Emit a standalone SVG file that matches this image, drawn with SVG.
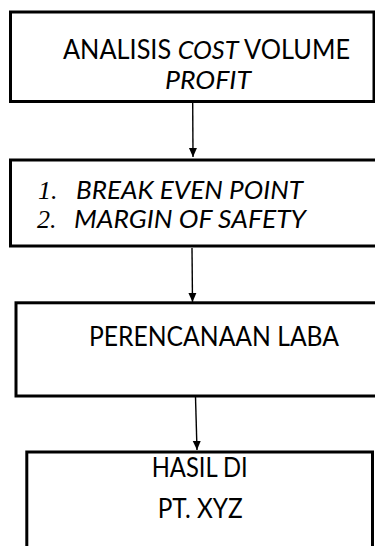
<svg xmlns="http://www.w3.org/2000/svg" width="375" height="546" viewBox="0 0 375 546">
<style>
.box{fill:#fff;stroke:#000;stroke-width:3}
.t{font-family:Lato,"Open Sans","Liberation Sans",sans-serif;font-size:26px;fill:#000}
.i{font-style:italic}
.n{font-family:"Liberation Serif",serif;font-style:italic;font-size:26px;fill:#000}
.c{stroke:#000;stroke-width:1.4;fill:none}
</style>
<defs>
<marker id="ah" markerUnits="userSpaceOnUse" markerWidth="10" markerHeight="10" viewBox="0 0 10 10" refX="9" refY="5" orient="auto">
<path d="M0,1 L9,5 L0,9 Z" fill="#000"/>
</marker>
</defs>
<rect width="375" height="546" fill="#fff"/>
<g id="connectors">
<line class="c" x1="192.7" y1="103" x2="193" y2="157" marker-end="url(#ah)"/>
<line class="c" x1="192" y1="248" x2="192.5" y2="302" marker-end="url(#ah)"/>
<line class="c" x1="195.5" y1="397" x2="197" y2="450" marker-end="url(#ah)"/>
</g>
<g id="node1">
<rect class="box" x="10.5" y="12" width="363.5" height="89.5"/>
<text class="t" x="63" y="59" textLength="287" lengthAdjust="spacingAndGlyphs">ANALISIS <tspan class="i">COST</tspan> VOLUME</text>
<text class="t i" x="165" y="89" textLength="86" lengthAdjust="spacingAndGlyphs">PROFIT</text>
</g>
<g id="node2">
<rect class="box" x="10.5" y="160" width="372" height="86"/>
<text class="n" x="38" y="199">1.</text>
<text class="t i" x="76" y="199" textLength="227" lengthAdjust="spacingAndGlyphs">BREAK EVEN POINT</text>
<text class="n" x="37" y="228">2.</text>
<text class="t i" x="74" y="228" textLength="232" lengthAdjust="spacingAndGlyphs">MARGIN OF SAFETY</text>
</g>
<g id="node3">
<rect class="box" x="16" y="302.8" width="366" height="93.2"/>
<text class="t" x="89" y="346" textLength="250" lengthAdjust="spacingAndGlyphs">PERENCANAAN LABA</text>
</g>
<g id="node4">
<rect class="box" x="26.8" y="452" width="345.7" height="110"/>
<text class="t" x="151.7" y="477" textLength="96" lengthAdjust="spacingAndGlyphs">HASIL DI</text>
<text class="t" x="157.7" y="518" textLength="85" lengthAdjust="spacingAndGlyphs">PT. XYZ</text>
</g>
</svg>
